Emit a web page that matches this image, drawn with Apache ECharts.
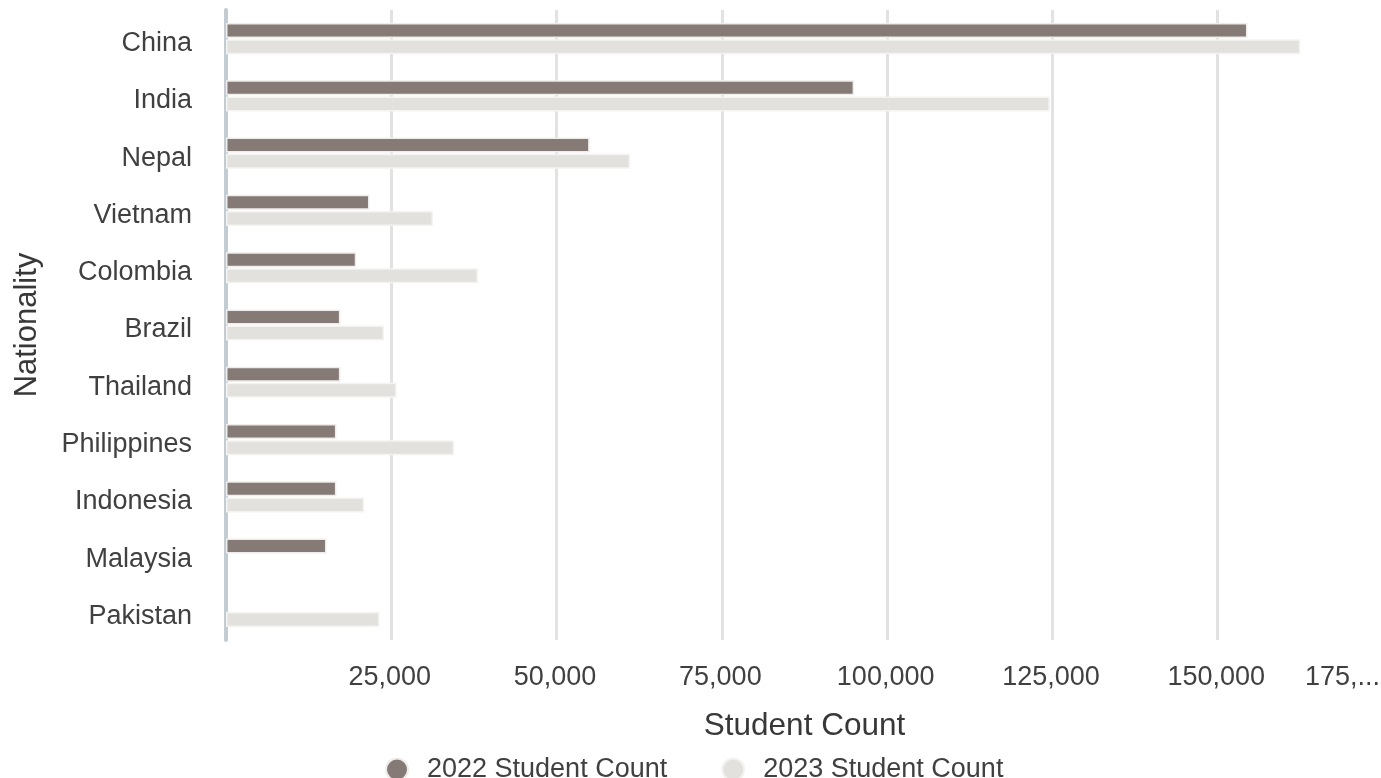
<!DOCTYPE html>
<html>
<head>
<meta charset="utf-8">
<script src="https://cdn.jsdelivr.net/npm/echarts@6/dist/echarts.min.js"></script>
<style>
html,body{margin:0;padding:0;background:#fff;}
#chart{width:1381px;height:778px;}
</style>
</head>
<body>
<div id="chart"></div>
<script>
const categories = ['China','India','Nepal','Vietnam','Colombia','Brazil','Thailand','Philippines','Indonesia','Malaysia','Pakistan'];
const count2022 = [154500, 95000, 55000, 21700, 19700, 17300, 17300, 16700, 16700, 15200, null];
const count2023 = [162500, 124600, 61100, 31300, 38100, 23900, 25800, 34500, 20900, null, 23200];
const tickValues = [0, 25000, 50000, 75000, 100000, 125000, 150000, 175000];
const tickLabels = ['', '25,000', '50,000', '75,000', '100,000', '125,000', '150,000', '175,...'];

const chart = echarts.init(document.getElementById('chart'), null, {renderer: 'canvas'});
const font = '"Liberation Sans", Arial, sans-serif';
chart.setOption({
  animation: false,
  backgroundColor: '#ffffff',
  textStyle: {fontFamily: font},
  grid: {left: 226, right: -2, top: 10, bottom: 138, containLabel: false, outerBoundsMode: 'none'},
  legend: {
    left: 380, top: 751,
    icon: 'circle', itemWidth: 22, itemHeight: 22, itemGap: 54,
    textStyle: {fontSize: 27, color: '#404040', fontFamily: font, padding: [0, 0, 0, 14]},
    data: ['2022 Student Count', '2023 Student Count']
  },
  xAxis: {
    type: 'value', min: 0, max: 175000, interval: 25000,
    name: 'Student Count', nameLocation: 'middle', nameGap: 70,
    nameTextStyle: {fontSize: 31.5, color: '#383838', fontFamily: font},
    axisLine: {show: false}, axisTick: {show: false},
    axisLabel: {
      fontSize: 27, color: '#404040', margin: 24, fontFamily: font,
      alignMaxLabel: 'right', padding: [0, 3, 0, 0],
      formatter: function (v) { const i = tickValues.indexOf(v); return i >= 0 ? tickLabels[i] : ''; }
    },
    splitLine: {show: true, lineStyle: {color: '#e2e2e2', width: 3}}
  },
  yAxis: {
    type: 'category', data: categories, inverse: true,
    name: 'Nationality', nameLocation: 'middle', nameGap: 183, nameRotate: 90,
    nameTextStyle: {fontSize: 31, color: '#383838', fontFamily: font},
    axisLine: {show: true, lineStyle: {color: '#c3cbd3', width: 4}},
    axisTick: {show: false},
    axisLabel: {
      margin: 34,
      formatter: function (v) { return '{a|' + v + '}'; },
      rich: {a: {fontSize: 27, color: '#404040', fontFamily: font, padding: [10, 0, 0, 0]}}
    },
    splitLine: {show: false}
  },
  series: [
    {
      name: '2022 Student Count', type: 'bar', data: count2022,
      barWidth: 15, barGap: '8%',
      itemStyle: {color: '#857a76', borderColor: '#efedeb', borderWidth: 1.5}
    },
    {
      name: '2023 Student Count', type: 'bar', data: count2023,
      barWidth: 15,
      itemStyle: {color: '#e3e1dd', borderColor: '#f4f3f1', borderWidth: 1.5}
    }
  ]
});
</script>
</body>
</html>
